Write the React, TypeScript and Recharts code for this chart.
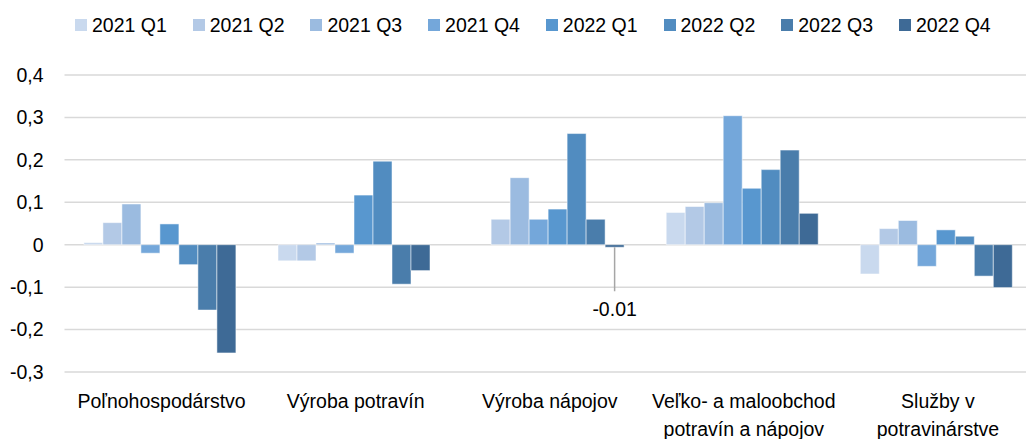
import { BarChart, Bar, XAxis, YAxis, CartesianGrid, LabelList } from "recharts";

const FONT = '"Liberation Sans", Arial, sans-serif';

const categories = [
  "Poľnohospodárstvo",
  "Výroba potravín",
  "Výroba nápojov",
  "Veľko- a maloobchod\npotravín a nápojov",
  "Služby v\npotravinárstve",
];

const quarters = ["2021 Q1", "2021 Q2", "2021 Q3", "2021 Q4", "2022 Q1", "2022 Q2", "2022 Q3", "2022 Q4"];

const colors = ["#c9d9ee", "#b3c9e6", "#9bbbe0", "#74a7da", "#5897cf", "#518cc0", "#4a7dab", "#3e6a96"];

const q2021_1 = [0.005, -0.038, 0, 0.076, -0.069];
const q2021_2 = [0.052, -0.038, 0.06, 0.09, 0.038];
const q2021_3 = [0.096, 0.004, 0.158, 0.099, 0.057];
const q2021_4 = [-0.02, -0.02, 0.06, 0.304, -0.051];
const q2022_1 = [0.049, 0.117, 0.084, 0.133, 0.035];
const q2022_2 = [-0.047, 0.197, 0.262, 0.177, 0.02];
const q2022_3 = [-0.154, -0.093, 0.06, 0.223, -0.074];
const q2022_4 = [-0.255, -0.061, -0.006, 0.074, -0.101];

const yTicks = [0.4, 0.3, 0.2, 0.1, 0, -0.1, -0.2, -0.3];

// the only value callout in the chart (2022 Q4, Výroba nápojov)
const noteIndex = 2;
const noteText = "-0.01";

const seriesValues = [q2021_1, q2021_2, q2021_3, q2021_4, q2022_1, q2022_2, q2022_3, q2022_4];

const data = categories.map((category, i) => {
  const row: Record<string, string | number> = { category };
  quarters.forEach((q, s) => {
    row[q] = seriesValues[s][i];
  });
  return row;
});

function CategoryTick(props: any) {
  const { x, y, payload } = props;
  const lines = String(payload.value).split("\n");
  return (
    <text x={x} y={y} textAnchor="middle" fontSize={19.5} fill="#000" fontFamily={FONT}>
      {lines.map((line, i) => (
        <tspan key={i} x={x} dy={i === 0 ? 36 : 27.5}>
          {line}
        </tspan>
      ))}
    </text>
  );
}

function NoteLabel(props: any) {
  if (props.index !== noteIndex) return null;
  const vb = props.viewBox ?? {};
  const x = Number(props.x ?? vb.x);
  const y = Number(props.y ?? vb.y);
  const w = Number(props.width ?? vb.width);
  const h = Number(props.height ?? vb.height);
  const cx = x + w / 2;
  const bottom = Math.max(y, y + h);
  return (
    <g>
      <line x1={cx} x2={cx} y1={bottom} y2={bottom + 44} stroke="#a6a6a6" strokeWidth={1.5} />
      <text x={cx} y={bottom + 69} textAnchor="middle" fontSize={19.5} fill="#000" fontFamily={FONT}>
        {noteText}
      </text>
    </g>
  );
}

function TopLegend() {
  return (
    <>
      {quarters.map((q, i) => (
        <div
          key={q}
          style={{
            position: "absolute",
            left: 75 + i * 117.7,
            top: 13,
            height: 24,
            display: "flex",
            alignItems: "center",
            whiteSpace: "nowrap",
          }}
        >
          <span style={{ width: 12, height: 12, background: colors[i], marginRight: 5, display: "inline-block" }} />
          <span style={{ fontSize: 19.5, lineHeight: "24px", color: "#000" }}>{q}</span>
        </div>
      ))}
    </>
  );
}

export default function App() {
  return (
    <div
      style={{
        position: "fixed",
        left: 0,
        top: 0,
        width: 1026,
        height: 439,
        overflow: "hidden",
        background: "#fff",
        fontFamily: FONT,
      }}
    >
      <BarChart
        width={1035}
        height={439}
        data={data}
        margin={{ top: 75, right: 0, bottom: 0, left: 0 }}
        barCategoryGap="10%"
        barGap={0}
      >
        <CartesianGrid vertical={false} stroke="#d9d9d9" strokeWidth={1.5} />
        <XAxis
          dataKey="category"
          height={67}
          axisLine={false}
          tickLine={false}
          tickSize={0}
          tickMargin={0}
          interval={0}
          tick={<CategoryTick />}
        />
        <YAxis
          width={64.5}
          domain={[-0.3, 0.4]}
          ticks={yTicks}
          axisLine={false}
          tickLine={false}
          tickSize={0}
          tickMargin={21}
          tickFormatter={(v: number) => (v === 0 ? "0" : v.toFixed(1).replace(".", ","))}
          tick={{ fontSize: 19.5, fill: "#000", fontFamily: FONT }}
        />
        {quarters.map((q, i) => (
          <Bar
            key={q}
            dataKey={q}
            fill={colors[i]}
            stroke="rgba(255,255,255,0.5)"
            strokeWidth={1}
            isAnimationActive={false}
          >
            {i === quarters.length - 1 && <LabelList dataKey={q} content={<NoteLabel />} />}
          </Bar>
        ))}
      </BarChart>
      <TopLegend />
    </div>
  );
}
